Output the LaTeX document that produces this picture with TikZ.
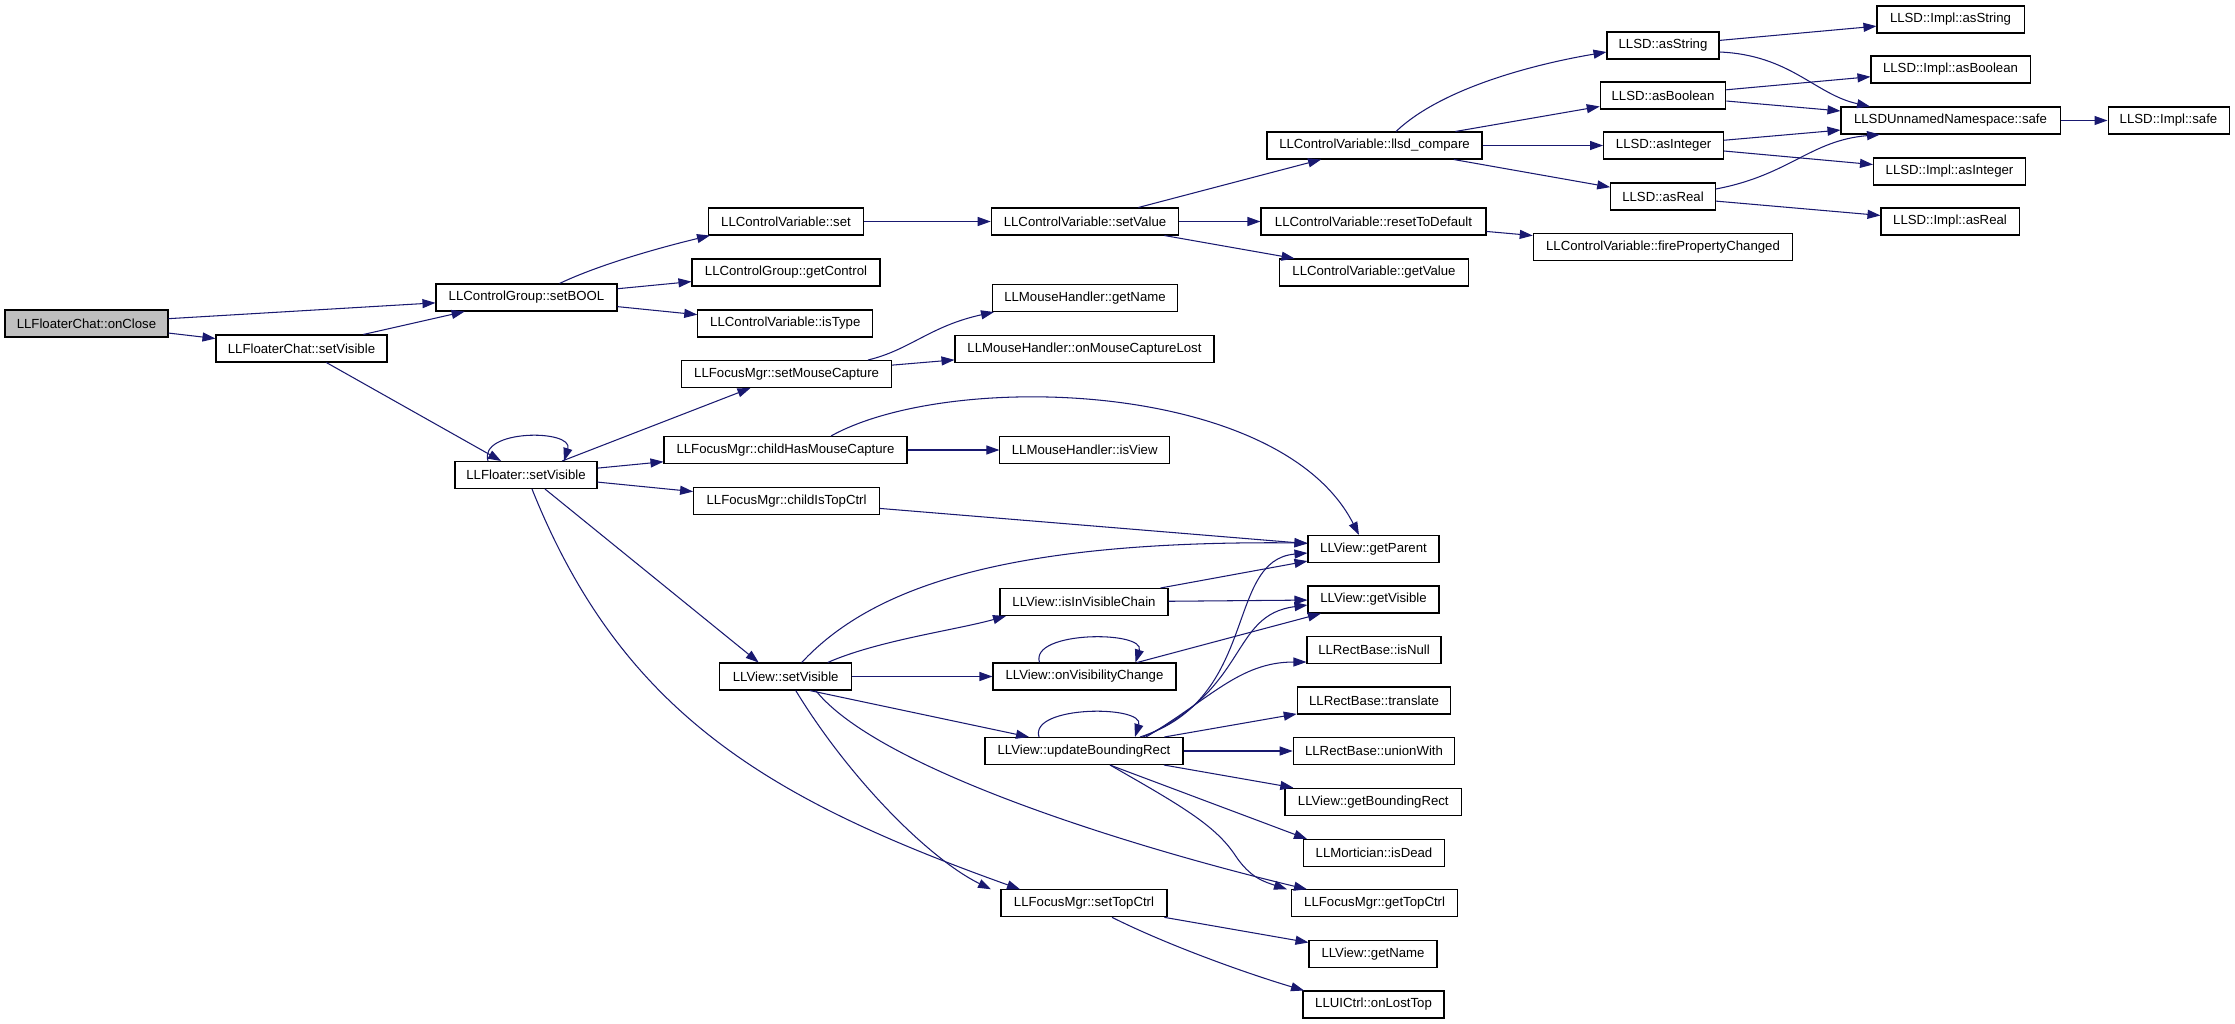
\documentclass[tikz,border=0pt]{standalone}
\usepackage{fontspec}
\setmainfont{Liberation Sans}
\usetikzlibrary{arrows.meta}
\definecolor{edgec}{HTML}{191970}
\definecolor{rootfill}{HTML}{BFBFBF}
\begin{document}
\begin{tikzpicture}[x=1pt,y=-1pt,
  fn/.style={draw=black, line width=1.05pt, minimum height=27pt, inner sep=0pt,
    font=\fontsize{13.2pt}{15pt}\selectfont},
  e/.style={draw=edgec, line width=1.05pt, -{Triangle[length=13pt,width=9pt]}, edgec}]
\fill[white] (0,0) rectangle (2235,1023);
\useasboundingbox (0,0) rectangle (2235,1023);
% nodes
\node[fn, fill=rootfill, minimum width=163pt] (oc) at (86.5,323.5) {LLFloaterChat::onClose};
\node[fn, minimum width=171pt] (fcsv) at (301.5,348.5) {LLFloaterChat::setVisible};
\node[fn, minimum width=181pt] (sb) at (526.5,297.5) {LLControlGroup::setBOOL};
\node[fn, minimum width=155pt] (cvset) at (786,221.5) {LLControlVariable::set};
\node[fn, minimum width=188pt] (gctl) at (786,272.5) {LLControlGroup::getControl};
\node[fn, minimum width=175pt] (istype) at (785.3,323.5) {LLControlVariable::isType};
\node[fn, minimum width=187.5pt] (setval) at (1085,221.5) {LLControlVariable::setValue};
\node[fn, minimum width=215pt] (cmp) at (1374.5,145.5) {LLControlVariable::llsd\_compare};
\node[fn, minimum width=225pt] (rtd) at (1373.5,221.5) {LLControlVariable::resetToDefault};
\node[fn, minimum width=188.5pt] (getval) at (1374,272.5) {LLControlVariable::getValue};
\node[fn, minimum width=259.5pt] (fpc) at (1663,247) {LLControlVariable::firePropertyChanged};
\node[fn, minimum width=112pt] (astr) at (1663,45.5) {LLSD::asString};
\node[fn, minimum width=125.5pt] (abool) at (1663,95.5) {LLSD::asBoolean};
\node[fn, minimum width=120pt] (aint) at (1663.6,145.5) {LLSD::asInteger};
\node[fn, minimum width=104.6pt] (areal) at (1663,196.5) {LLSD::asReal};
\node[fn, minimum width=147pt] (iastr) at (1950.5,19.5) {LLSD::Impl::asString};
\node[fn, minimum width=159pt] (iabool) at (1950.5,69.5) {LLSD::Impl::asBoolean};
\node[fn, minimum width=219pt] (uns) at (1950.5,120.5) {LLSDUnnamedNamespace::safe};
\node[fn, minimum width=121pt] (isafe) at (2168.5,120.5) {LLSD::Impl::safe};
\node[fn, minimum width=152pt] (iaint) at (1949.5,171.5) {LLSD::Impl::asInteger};
\node[fn, minimum width=138pt] (iareal) at (1950,221.5) {LLSD::Impl::asReal};
\node[fn, minimum width=184.5pt] (mhname) at (1085,298) {LLMouseHandler::getName};
\node[fn, minimum width=259pt] (mhlost) at (1084.5,349) {LLMouseHandler::onMouseCaptureLost};
\node[fn, minimum width=210pt] (smc) at (786.6,374) {LLFocusMgr::setMouseCapture};
\node[fn, minimum width=243pt] (chmc) at (785.5,450) {LLFocusMgr::childHasMouseCapture};
\node[fn, minimum width=169.5pt] (isview) at (1084.7,450) {LLMouseHandler::isView};
\node[fn, minimum width=186pt] (citc) at (786.6,500.8) {LLFocusMgr::childIsTopCtrl};
\node[fn, minimum width=142pt] (lf) at (526,475) {LLFloater::setVisible};
\node[fn, minimum width=131pt] (gpar) at (1373.5,549) {LLView::getParent};
\node[fn, minimum width=168pt] (ivc) at (1084,602) {LLView::isInVisibleChain};
\node[fn, minimum width=131pt] (gvis) at (1373.5,599.5) {LLView::getVisible};
\node[fn, minimum width=183pt] (ovc) at (1084.5,676.5) {LLView::onVisibilityChange};
\node[fn, minimum width=134pt] (isnull) at (1374,650) {LLRectBase::isNull};
\node[fn, minimum width=131.5pt] (vsv) at (785.7,676.5) {LLView::setVisible};
\node[fn, minimum width=153.5pt] (transl) at (1374,700.5) {LLRectBase::translate};
\node[fn, minimum width=198pt] (ubr) at (1084,751) {LLView::updateBoundingRect};
\node[fn, minimum width=161.5pt] (union) at (1374,751) {LLRectBase::unionWith};
\node[fn, minimum width=176.6pt] (gbr) at (1373.3,801.7) {LLView::getBoundingRect};
\node[fn, minimum width=140.6pt] (dead) at (1374,853) {LLMortician::isDead};
\node[fn, minimum width=166pt] (gtc) at (1374.6,903.3) {LLFocusMgr::getTopCtrl};
\node[fn, minimum width=166pt] (stc) at (1084,903.3) {LLFocusMgr::setTopCtrl};
\node[fn, minimum width=128pt] (vname) at (1373,953.7) {LLView::getName};
\node[fn, minimum width=141pt] (lost) at (1373.5,1004.5) {LLUICtrl::onLostTop};
% edges
\draw[e] (oc) -- (sb);
\draw[e] (oc) -- (fcsv);
\draw[e] (fcsv) -- (sb);
\draw[e] (fcsv) -- (lf);
\draw[e] ([xshift=33pt]sb.north) .. controls +(40,-19) and +(-50,12) .. ([xshift=-76pt]cvset.south);
\draw[e] (sb) -- (gctl);
\draw[e] (sb) -- (istype);
\draw[e] (cvset) -- (setval);
\draw[e] (setval) -- (cmp);
\draw[e] (setval) -- (rtd);
\draw[e] (setval) -- (getval);
\draw[e] (rtd) -- (fpc);
\draw[e] ([xshift=21.5pt]cmp.north) .. controls +(44,-42) and +(-77,13) .. ([yshift=-6.5pt]astr.west);
\draw[e] (cmp) -- (abool);
\draw[e] (cmp) -- (aint);
\draw[e] (cmp) -- (areal);
\draw[e] (astr) -- (iastr);
\draw[e] ([yshift=-6.5pt]astr.east) .. controls +(71,3) and +(-55,-12) .. ([xshift=-80.5pt]uns.north);
\draw[e] (abool) -- (iabool);
\draw[e] (abool) -- (uns);
\draw[e] (aint) -- (uns);
\draw[e] (aint) -- (iaint);
\draw[e] ([yshift=7.5pt]areal.east) .. controls +(74,-14) and +(-70,6) .. ([xshift=-70.5pt]uns.south);
\draw[e] (areal) -- (iareal);
\draw[e] (uns) -- (isafe);
% LLFloater::setVisible
\draw[e] ([xshift=-38pt]lf.north) .. controls +(-10,-32) and +(10,-32) .. ([xshift=38pt]lf.north);
\draw[e] (lf) -- (smc);
\draw[e] (lf) -- (chmc);
\draw[e] (lf) -- (citc);
\draw[e] ([xshift=19pt]lf.south) -- ([xshift=-27pt]vsv.north);
\draw[e] ([xshift=6pt]lf.south) .. controls +(90,225) and +(-250,-89.5) .. ([xshift=-64pt]stc.north);
\draw[e] ([xshift=81.4pt]smc.north) .. controls +(42,-10) and +(-64,14) .. ([xshift=-91pt]mhname.south);
\draw[e] (smc) -- (mhlost);
\draw[e] (chmc) -- (isview);
\draw[e] ([xshift=45.5pt]chmc.north) .. controls +(119,-66) and +(-79,-155) .. ([xshift=-14.5pt]gpar.north);
\draw[e] (citc) -- (gpar);
% LLView::setVisible
\draw[e] ([xshift=16pt]vsv.north) .. controls +(68,-73) and +(-308,-3) .. ([yshift=6pt]gpar.west);
\draw[e] ([xshift=42pt]vsv.north) .. controls +(50,-22) and +(-50,14) .. ([xshift=-78pt]ivc.south);
\draw[e] (vsv) -- (ovc);
\draw[e] ([xshift=24pt]vsv.south) -- ([xshift=-55pt]ubr.north);
\draw[e] ([xshift=10pt]vsv.south) .. controls +(55,90) and +(-61,-30) .. ([xshift=-93pt]stc.north);
\draw[e] ([xshift=30pt]vsv.south) .. controls +(64,80) and +(-167,-40) .. ([xshift=-67.6pt]gtc.north);
\draw[e] (ivc) -- (gpar);
\draw[e] (ivc) -- (gvis);
\draw[e] ([xshift=-45pt]ovc.north) .. controls +(-10,-32) and +(10,-32) .. ([xshift=51pt]ovc.north);
\draw[e] (ovc) -- (gvis);
% LLView::updateBoundingRect
\draw[e] ([xshift=-45pt]ubr.north) .. controls +(-10,-32) and +(10,-32) .. ([xshift=51pt]ubr.north);
\draw[e] ([xshift=56pt]ubr.north) .. controls +(120,-38) and +(-83,7) .. ([yshift=-4pt]gpar.west);
\draw[e] ([xshift=59pt]ubr.north) .. controls +(107,-48) and +(-78,10) .. ([yshift=-5.5pt]gvis.west);
\draw[e] ([xshift=62pt]ubr.north) .. controls +(64,-38) and +(-67,0) .. ([yshift=-12pt]isnull.west);
\draw[e] (ubr) -- (transl);
\draw[e] (ubr) -- (union);
\draw[e] (ubr) -- (gbr);
\draw[e] ([xshift=26pt]ubr.south) -- ([xshift=-67pt]dead.north);
\draw[e] ([xshift=26pt]ubr.south) .. controls (1180,805) and (1215,825) .. (1235,855) .. controls (1250,878) and (1265,882) .. ([xshift=-87.6pt]gtc.north);
% LLFocusMgr::setTopCtrl
\draw[e] (stc) -- (vname);
\draw[e] ([xshift=28pt]stc.south) .. controls +(58,29) and +(-54,-16) .. ([xshift=-69.5pt]lost.north);
\end{tikzpicture}
\end{document}
